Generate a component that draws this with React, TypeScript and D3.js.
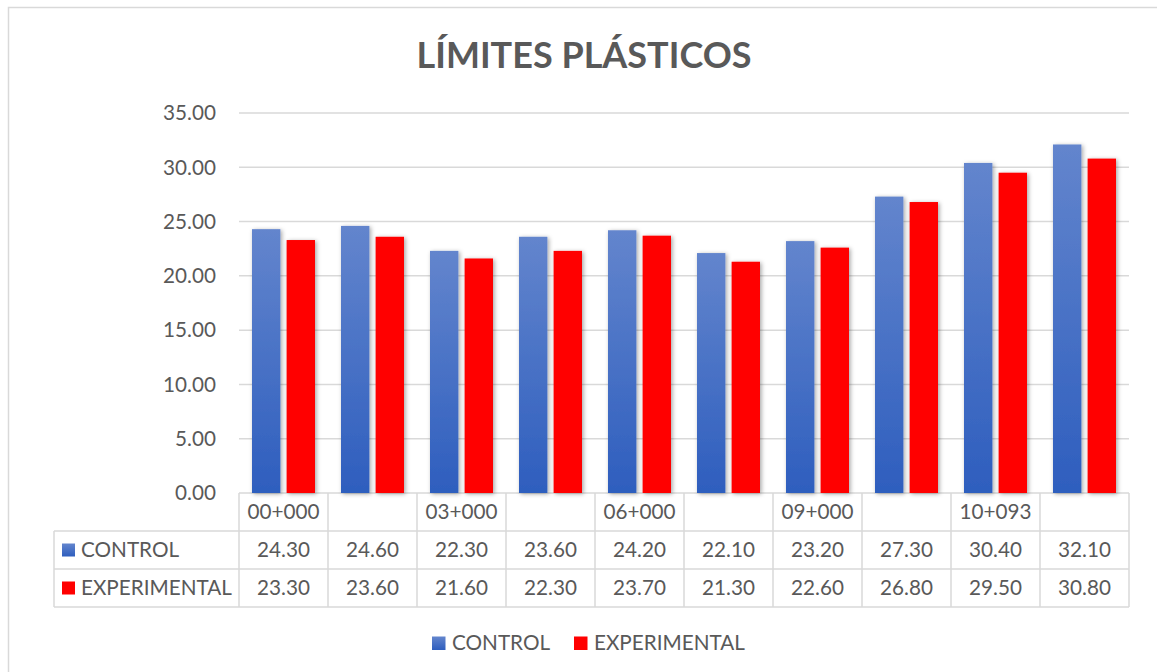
import React from "react";
import * as d3 from "d3";

const categories = ["00+000", "", "03+000", "", "06+000", "", "09+000", "", "10+093", ""];
const controlValues = [24.3, 24.6, 22.3, 23.6, 24.2, 22.1, 23.2, 27.3, 30.4, 32.1];
const experimentalValues = [23.3, 23.6, 21.6, 22.3, 23.7, 21.3, 22.6, 26.8, 29.5, 30.8];
const seriesNames = ["CONTROL", "EXPERIMENTAL"];
const yTicks = [0, 5, 10, 15, 20, 25, 30, 35];
const title = "LÍMITES PLÁSTICOS";

const W = 1157;
const H = 672;
const FONT = "Lato, 'Open Sans', sans-serif";
const TEXT = "#595959";
const GRID = "#D9D9D9";
const FS = 20.7;

export default function App() {
  const plotLeft = 239;
  const plotRight = 1129;
  const plotTop = 113;
  const plotBottom = 493;
  const rowH = 38;
  const tableLeft = 54;

  const idx = categories.map((_, i) => String(i));
  const x0 = d3.scaleBand<string>().domain(idx).range([plotLeft, plotRight]).padding(0);
  const x1 = d3.scaleBand<string>().domain(seriesNames).range([13, 76]).paddingInner(0.18);
  const y = d3.scaleLinear().domain([0, 35]).range([plotBottom, plotTop]);
  const fmt = d3.format(".2f");

  const series = [
    { name: seriesNames[0], values: controlValues, fill: "url(#blueGrad)" },
    { name: seriesNames[1], values: experimentalValues, fill: "#FF0000" },
  ];

  const rowTops = [plotBottom, plotBottom + rowH, plotBottom + 2 * rowH, plotBottom + 3 * rowH];
  const bw = x0.bandwidth();

  return (
    <svg width={W} height={H} style={{ display: "block", position: "absolute", left: 0, top: 0 }}>
      <defs>
        <linearGradient id="blueGrad" x1="0" y1="0" x2="0" y2="1">
          <stop offset="0" stopColor="#6385CD" />
          <stop offset="1" stopColor="#2E5EBE" />
        </linearGradient>
        <filter id="shadow" x="-30%" y="-10%" width="160%" height="130%">
          <feDropShadow dx="1.5" dy="1" stdDeviation="2" floodColor="#000" floodOpacity="0.35" />
        </filter>
      </defs>
      <rect x={0} y={0} width={W} height={H} fill="#fff" />
      <rect x={8.5} y={7.5} width={W + 10} height={H + 10} fill="none" stroke="#D9D9D9" strokeWidth={1.5} />

      <text x={584} y={68} textAnchor="middle" fontFamily={FONT} fontWeight="bold" fontSize={36} fill={TEXT}>
        {title}
      </text>

      {yTicks.map((t) => (
        <g key={t}>
          <line x1={plotLeft} x2={plotRight} y1={y(t)} y2={y(t)} stroke={GRID} strokeWidth={1.5} />
          <text x={216} y={y(t)} dy="0.35em" textAnchor="end" fontFamily={FONT} fontSize={FS} fill={TEXT}>
            {fmt(t)}
          </text>
        </g>
      ))}

      {series.map((s) => (
        <g key={s.name} filter="url(#shadow)">
          {s.values.map((v, i) => (
            <rect
              key={i}
              x={(x0(String(i)) as number) + (x1(s.name) as number)}
              y={y(v)}
              width={x1.bandwidth()}
              height={y(0) - y(v)}
              fill={s.fill}
            />
          ))}
        </g>
      ))}

      <g stroke={GRID} strokeWidth={1.5} fill="none">
        {idx.map((k) => (
          <line key={"v" + k} x1={x0(k)} x2={x0(k)} y1={plotBottom} y2={rowTops[3]} />
        ))}
        <line x1={plotRight} x2={plotRight} y1={plotBottom} y2={rowTops[3]} />
        <line x1={tableLeft} x2={tableLeft} y1={rowTops[1]} y2={rowTops[3]} />
        <line x1={tableLeft} x2={plotRight} y1={rowTops[1]} y2={rowTops[1]} />
        <line x1={tableLeft} x2={plotRight} y1={rowTops[2]} y2={rowTops[2]} />
        <line x1={tableLeft} x2={plotRight} y1={rowTops[3]} y2={rowTops[3]} />
      </g>
      {categories.map((c, i) => (
        <text
          key={"c" + i}
          x={(x0(String(i)) as number) + bw / 2}
          y={rowTops[0] + rowH / 2}
          dy="0.35em"
          textAnchor="middle"
          fontFamily={FONT}
          fontSize={FS}
          fill={TEXT}
        >
          {c}
        </text>
      ))}
      {series.map((s, r) => (
        <g key={"row" + s.name}>
          <rect x={62} y={rowTops[r + 1] + rowH / 2 - 6.5} width={13} height={13} fill={s.fill} />
          <text x={81} y={rowTops[r + 1] + rowH / 2} dy="0.35em" fontFamily={FONT} fontSize={FS} fill={TEXT}>
            {s.name}
          </text>
          {s.values.map((v, i) => (
            <text
              key={i}
              x={(x0(String(i)) as number) + bw / 2}
              y={rowTops[r + 1] + rowH / 2}
              dy="0.35em"
              textAnchor="middle"
              fontFamily={FONT}
              fontSize={FS}
              fill={TEXT}
            >
              {fmt(v)}
            </text>
          ))}
        </g>
      ))}

      <g>
        <rect x={432} y={636.5} width={13.5} height={13.5} fill="url(#blueGrad)" />
        <text x={452} y={643} dy="0.35em" fontFamily={FONT} fontSize={FS} fill={TEXT}>
          {seriesNames[0]}
        </text>
        <rect x={574} y={636.5} width={13.5} height={13.5} fill="#FF0000" />
        <text x={594} y={643} dy="0.35em" fontFamily={FONT} fontSize={FS} fill={TEXT}>
          {seriesNames[1]}
        </text>
      </g>
    </svg>
  );
}
